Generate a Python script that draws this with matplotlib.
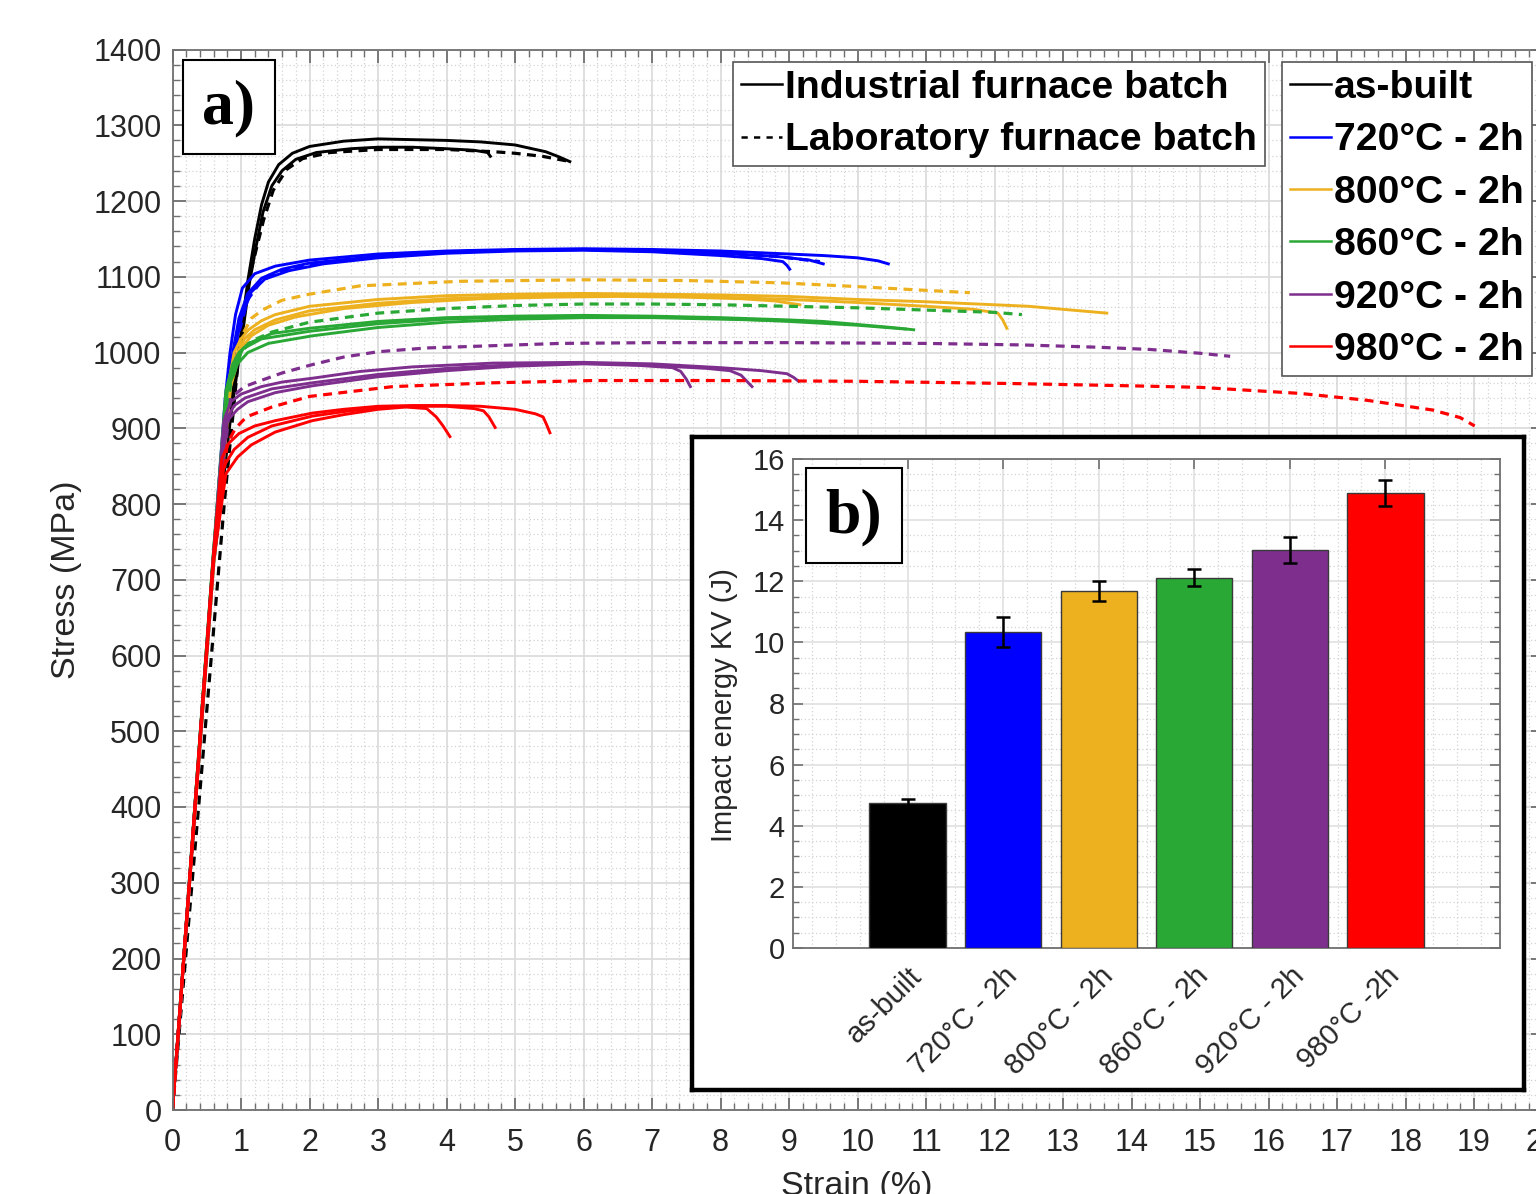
import matplotlib
matplotlib.use('Agg')
import matplotlib.pyplot as plt
from matplotlib.lines import Line2D
from matplotlib.patches import Rectangle
from matplotlib.ticker import MultipleLocator
import matplotlib.transforms as mtransforms

plt.rcParams['font.family'] = ['Liberation Sans', 'DejaVu Sans']

# ---------------- data: tensile curves (strain %, stress MPa) ----------------
asbuilt_ind_1 = [(0, 0), (0.6, 730), (0.85, 930), (0.97, 1005), (1.1, 1095), (1.2, 1150), (1.3, 1195),
                 (1.4, 1225), (1.55, 1248), (1.75, 1263), (2.0, 1272), (2.5, 1279), (3.0, 1282),
                 (4.0, 1280), (4.5, 1278), (5.0, 1274), (5.45, 1265), (5.65, 1258), (5.8, 1252)]
asbuilt_ind_2 = [(0, 0), (0.6, 720), (0.85, 915), (1.0, 1010), (1.12, 1090), (1.22, 1140), (1.32, 1185),
                 (1.45, 1220), (1.6, 1240), (1.8, 1255), (2.1, 1264), (2.6, 1269), (3.0, 1271),
                 (3.5, 1271), (4.0, 1269), (4.4, 1267), (4.6, 1264), (4.64, 1259)]
asbuilt_lab = [(0, 0), (0.4, 420), (0.76, 805), (0.95, 980), (1.05, 1060), (1.15, 1110), (1.33, 1175),
               (1.47, 1214), (1.67, 1242), (1.9, 1256), (2.3, 1264), (3.0, 1268), (4.0, 1268),
               (4.7, 1265), (5.0, 1263), (5.4, 1259), (5.75, 1253)]

t720_ind_1 = [(0, 0), (0.6, 735), (0.77, 940), (0.84, 1000), (0.92, 1050), (1.02, 1085), (1.2, 1104),
              (1.5, 1114), (2.0, 1122), (3.0, 1130), (4.0, 1134), (5.0, 1136), (6.0, 1137), (7.0, 1136),
              (8.0, 1134), (9.0, 1130), (9.5, 1128), (10.0, 1125), (10.3, 1121), (10.45, 1117)]
t720_ind_2 = [(0, 0), (0.6, 730), (0.8, 950), (0.88, 1000), (0.97, 1045), (1.1, 1078), (1.3, 1098),
              (1.6, 1110), (2.0, 1118), (3.0, 1127), (4.0, 1132), (5.0, 1135), (6.0, 1136), (7.0, 1135),
              (8.0, 1131), (8.8, 1127), (9.3, 1122), (9.5, 1117)]
t720_ind_3 = [(0, 0), (0.6, 725), (0.82, 955), (0.92, 1010), (1.02, 1050), (1.15, 1080), (1.35, 1097),
              (1.7, 1108), (2.2, 1117), (3.0, 1125), (4.0, 1131), (5.0, 1134), (6.0, 1135), (7.0, 1133),
              (8.0, 1128), (8.6, 1124), (8.91, 1120), (8.97, 1115), (9.01, 1110)]
t720_lab = [(0, 0), (0.6, 720), (0.85, 960), (0.95, 1020), (1.1, 1070), (1.3, 1095), (1.6, 1108),
            (2.0, 1117), (3.0, 1127), (4.0, 1133), (5.0, 1135), (6.0, 1136), (7.0, 1134), (8.0, 1131),
            (8.8, 1127), (9.45, 1120)]

t800_ind_1 = [(0, 0), (0.6, 730), (0.8, 950), (0.9, 1000), (1.0, 1018), (1.11, 1030), (1.3, 1042),
              (1.5, 1050), (2.0, 1061), (3.0, 1070), (4.0, 1075), (5.0, 1077), (6.0, 1078), (7.0, 1077),
              (8.0, 1076), (9.0, 1074), (10.0, 1070), (11.0, 1067), (12.0, 1063), (12.5, 1061),
              (13.0, 1057), (13.64, 1052)]
t800_ind_2 = [(0, 0), (0.6, 725), (0.82, 950), (0.95, 1000), (1.05, 1018), (1.2, 1030), (1.5, 1043),
              (2.0, 1055), (3.0, 1065), (4.0, 1071), (5.0, 1074), (6.0, 1076), (7.0, 1075), (8.0, 1073),
              (9.0, 1070), (10.0, 1066), (11.0, 1061), (11.7, 1057), (12.05, 1052), (12.12, 1043),
              (12.18, 1032)]
t800_ind_3 = [(0, 0), (0.6, 720), (0.85, 955), (1.0, 1005), (1.15, 1022), (1.4, 1036), (1.8, 1047),
              (2.5, 1058), (3.5, 1066), (4.5, 1071), (5.5, 1073), (6.5, 1074), (7.5, 1073), (8.3, 1071),
              (8.8, 1068), (9.16, 1063)]
t800_lab = [(0, 0), (0.6, 720), (0.85, 960), (1.0, 1020), (1.15, 1045), (1.31, 1056), (1.6, 1069),
            (2.0, 1077), (2.74, 1088), (4.2, 1094), (6.0, 1096), (7.5, 1095), (8.87, 1092), (10.0, 1087),
            (10.8, 1083), (11.64, 1079)]

t860_ind_1 = [(0, 0), (0.6, 740), (0.78, 950), (0.88, 985), (0.97, 1000), (1.11, 1012), (1.45, 1025),
              (2.0, 1032), (3.0, 1041), (4.0, 1046), (5.0, 1048), (6.0, 1049), (7.0, 1048), (8.0, 1046),
              (9.0, 1043), (9.5, 1041), (10.0, 1037), (10.5, 1033), (10.82, 1030)]
t860_ind_2 = [(0, 0), (0.6, 735), (0.8, 950), (0.95, 985), (1.1, 1000), (1.4, 1012), (2.04, 1022),
              (3.0, 1033), (4.0, 1040), (5.0, 1044), (6.0, 1046), (7.0, 1046), (8.0, 1044), (9.0, 1042),
              (9.43, 1040)]
t860_ind_3 = [(0, 0), (0.6, 738), (0.79, 950), (0.92, 985), (1.03, 1005), (1.3, 1018), (2.0, 1028),
              (3.0, 1038), (4.0, 1044), (5.0, 1047), (6.0, 1048), (7.0, 1047), (8.0, 1045), (9.0, 1041),
              (10.0, 1036), (10.7, 1031)]
t860_lab = [(0, 0), (0.6, 735), (0.85, 960), (1.0, 1000), (1.15, 1015), (1.45, 1027), (2.0, 1040),
            (3.0, 1052), (4.0, 1058), (5.0, 1062), (6.0, 1064), (7.0, 1064), (8.0, 1063), (9.0, 1061),
            (10.0, 1059), (11.0, 1056), (12.0, 1053), (12.4, 1050)]

t920_ind_1 = [(0, 0), (0.6, 735), (0.75, 910), (0.85, 935), (1.0, 945), (1.3, 955), (1.6, 961),
              (2.04, 966), (2.74, 975), (3.5, 981), (4.68, 986), (6.0, 987), (7.0, 985), (8.0, 980),
              (8.6, 976), (8.97, 972), (9.07, 967), (9.14, 962)]
t920_ind_2 = [(0, 0), (0.6, 730), (0.78, 910), (0.9, 930), (1.06, 940), (1.45, 952), (2.04, 960),
              (3.0, 971), (4.0, 979), (5.0, 984), (6.0, 986), (7.0, 983), (7.8, 979), (8.14, 976),
              (8.3, 970), (8.46, 955)]
t920_ind_3 = [(0, 0), (0.6, 725), (0.8, 910), (0.95, 925), (1.1, 935), (1.5, 947), (2.04, 956),
              (3.0, 968), (4.0, 976), (5.0, 982), (6.0, 985), (6.8, 983), (7.3, 980), (7.42, 975),
              (7.5, 965), (7.56, 955)]
t920_lab = [(0, 0), (0.6, 730), (0.85, 940), (1.05, 955), (1.26, 962), (1.6, 973), (2.04, 984),
            (2.5, 994), (3.0, 1001), (3.71, 1006), (5.66, 1012), (7.0, 1013), (9.0, 1013), (11.0, 1012),
            (12.4, 1010), (13.5, 1007), (14.27, 1004), (15.0, 999), (15.44, 995)]

t980_ind_1 = [(0, 0), (0.6, 735), (0.72, 860), (0.82, 880), (0.97, 893), (1.2, 903), (1.5, 910),
              (2.04, 920), (2.5, 925), (3.0, 929), (3.5, 930), (4.0, 930), (4.5, 929), (5.0, 925),
              (5.3, 919), (5.41, 915), (5.46, 905), (5.51, 894)]
t980_ind_2 = [(0, 0), (0.6, 730), (0.75, 850), (0.9, 872), (1.1, 888), (1.45, 903), (2.04, 916),
              (2.5, 922), (3.0, 927), (3.5, 929), (4.0, 929), (4.4, 926), (4.54, 923), (4.62, 915),
              (4.71, 901)]
t980_ind_3 = [(0, 0), (0.6, 725), (0.78, 840), (0.95, 862), (1.15, 878), (1.5, 895), (2.04, 910),
              (2.5, 918), (3.0, 925), (3.4, 928), (3.71, 926), (3.85, 915), (3.95, 903), (4.05, 889)]
t980_lab = [(0, 0), (0.6, 730), (0.8, 880), (0.92, 900), (1.08, 915), (1.45, 928), (2.0, 942),
            (3.22, 955), (4.68, 960), (6.14, 963), (8.0, 963), (10.0, 962), (12.28, 959), (14.0, 956),
            (15.0, 954), (16.46, 946), (17.43, 937), (18.4, 924), (18.8, 914), (19.01, 903)]

# ---------------- data: impact energy ----------------
conditions = ['as-built', '720°C - 2h', '800°C - 2h', '860°C - 2h', '920°C - 2h', '980°C -2h']
legend_conditions = ['as-built', '720°C - 2h', '800°C - 2h', '860°C - 2h', '920°C - 2h', '980°C - 2h']
impact_energy = [4.74, 10.34, 11.68, 12.12, 13.03, 14.89]
impact_err = [0.15, 0.50, 0.32, 0.28, 0.42, 0.42]

colors = ['#000000', '#0000ff', '#edb120', '#2aa836', '#7e2f8e', '#ff0000']

groups = [
    (colors[0], [asbuilt_ind_1, asbuilt_ind_2], asbuilt_lab),
    (colors[1], [t720_ind_1, t720_ind_2, t720_ind_3], t720_lab),
    (colors[2], [t800_ind_1, t800_ind_2, t800_ind_3], t800_lab),
    (colors[3], [t860_ind_1, t860_ind_2, t860_ind_3], t860_lab),
    (colors[4], [t920_ind_1, t920_ind_2, t920_ind_3], t920_lab),
    (colors[5], [t980_ind_1, t980_ind_2, t980_ind_3], t980_lab),
]

W, H = 1536, 1194
fig = plt.figure(figsize=(W / 100, H / 100), dpi=100)


def fx(px):
    return px / W


def fy(py):
    return 1 - py / H


axis_col = '#707070'
text_col = '#262626'

ax = fig.add_axes([fx(172.5), fy(1110), (1542.5 - 172.5) / W, (1110 - 49.5) / H])
LW = 2.1
dash = (0, (2.8, 2.0))
for col, inds, lab in groups:
    for c in inds:
        ax.plot([p[0] for p in c], [p[1] for p in c], color=col, lw=LW, solid_joinstyle='round')
    ax.plot([p[0] for p in lab], [p[1] for p in lab], color=col, lw=LW + 0.2, linestyle=dash)

ax.set_xlim(0, 20)
ax.set_ylim(0, 1400)
ax.xaxis.set_major_locator(MultipleLocator(1))
ax.xaxis.set_minor_locator(MultipleLocator(0.2))
ax.yaxis.set_major_locator(MultipleLocator(100))
ax.yaxis.set_minor_locator(MultipleLocator(20))
ax.grid(which='major', color='#dcdcdc', lw=1.3, ls='-')
ax.grid(which='minor', color='#d4d4d4', lw=0.9, ls=(0, (1, 2)))
ax.set_axisbelow(True)
for s in ax.spines.values():
    s.set_color(axis_col)
    s.set_linewidth(1.3)
ax.tick_params(which='both', direction='in', top=True, right=True, color=axis_col,
               labelcolor=text_col, labelsize=22)
ax.tick_params(which='major', length=9, width=1.3)
ax.tick_params(which='minor', length=5, width=1.0)
ax.tick_params(axis='y', pad=8)
ax.tick_params(axis='x', pad=13)

fig.text(fx(66), fy(580), 'Stress (MPa)', rotation=90, ha='center', va='center',
         fontsize=24.5, color=text_col)
fig.text(fx(857), fy(1171), 'Strain (%)', ha='center', va='top', fontsize=24.5, color=text_col)

# legends
legend_kw = dict(loc='upper left', bbox_transform=fig.transFigure,
                 prop={'weight': 'bold', 'size': 28.2}, handlelength=1.05, handletextpad=0.08,
                 labelspacing=0.42, borderpad=0.2, borderaxespad=0, fancybox=False,
                 framealpha=1, edgecolor='#555555')
h1 = [Line2D([], [], color='k', lw=1.8), Line2D([], [], color='k', lw=1.8, linestyle=(0, (2.5, 2.5)))]
leg1 = ax.legend(h1, ['Industrial furnace batch', 'Laboratory furnace batch'],
                 bbox_to_anchor=(fx(733), fy(62)), **legend_kw)
leg1.get_frame().set_linewidth(1.2)
ax.add_artist(leg1)
h2 = [Line2D([], [], color=c, lw=1.8) for c in colors]
leg2 = ax.legend(h2, legend_conditions, bbox_to_anchor=(fx(1282), fy(62)), **legend_kw)
leg2.get_frame().set_linewidth(1.2)

# a) label
fig.add_artist(Rectangle((fx(183), fy(154)), (275 - 183) / W, (154 - 60) / H, transform=fig.transFigure,
                         fc='white', ec='black', lw=1.5, zorder=3))
fig.text(fx(229), fy(108), 'a)', ha='center', va='center', fontsize=46, fontweight='bold',
         family=['Liberation Serif', 'DejaVu Serif'], zorder=4)

# ---------------- inset ----------------
frame = fig.add_axes([fx(692), fy(1090), (1524 - 692) / W, (1090 - 437) / H], zorder=5)
frame.set_xticks([])
frame.set_yticks([])
frame.set_facecolor('white')
for s in frame.spines.values():
    s.set_color('black')
    s.set_linewidth(3.2)

ins = fig.add_axes([fx(793), fy(948), (1500 - 793) / W, (948 - 459) / H], zorder=6)
pos = list(range(1, len(conditions) + 1))
ins.bar(pos, impact_energy, width=0.8, color=colors, edgecolor='#3a3a3a', lw=1.0, zorder=3)
ins.errorbar(pos, impact_energy, yerr=impact_err, fmt='none', ecolor='black', elinewidth=1.8,
             capsize=5, capthick=1.8, zorder=4)
ins.set_xlim(-0.2, 7.2)
ins.set_ylim(0, 16)
ins.set_xticks(pos)
ins.set_xticklabels(conditions, rotation=45, ha='right', va='top', rotation_mode='anchor')
shift = mtransforms.ScaledTranslation(7 / 100, 0, fig.dpi_scale_trans)
for lbl in ins.get_xticklabels():
    lbl.set_transform(lbl.get_transform() + shift)
ins.xaxis.set_minor_locator(MultipleLocator(0.25))
ins.yaxis.set_major_locator(MultipleLocator(2))
ins.yaxis.set_minor_locator(MultipleLocator(0.5))
ins.grid(which='major', color='#e0e0e0', lw=1.2, ls='-')
ins.grid(which='minor', color='#d4d4d4', lw=0.9, ls=(0, (1, 2)))
ins.set_axisbelow(True)
for s in ins.spines.values():
    s.set_color(axis_col)
    s.set_linewidth(1.3)
ins.tick_params(which='both', direction='in', top=True, right=True, color=axis_col,
                labelcolor=text_col, labelsize=21)
ins.tick_params(which='major', length=7, width=1.2)
ins.tick_params(which='minor', length=4, width=1.0)
ins.tick_params(axis='x', which='minor', length=0)
ins.tick_params(axis='y', pad=6)
ins.tick_params(axis='x', pad=10)

fig.text(fx(724), fy(705), 'Impact energy KV (J)', rotation=90, ha='center', va='center',
         fontsize=21, color=text_col, zorder=7)

fig.add_artist(Rectangle((fx(806), fy(563)), (902 - 806) / W, (563 - 468) / H, transform=fig.transFigure,
                         fc='white', ec='black', lw=1.5, zorder=8))
fig.text(fx(854), fy(517), 'b)', ha='center', va='center', fontsize=46, fontweight='bold',
         family=['Liberation Serif', 'DejaVu Serif'], zorder=9)

fig.savefig('out.png', dpi=100)
